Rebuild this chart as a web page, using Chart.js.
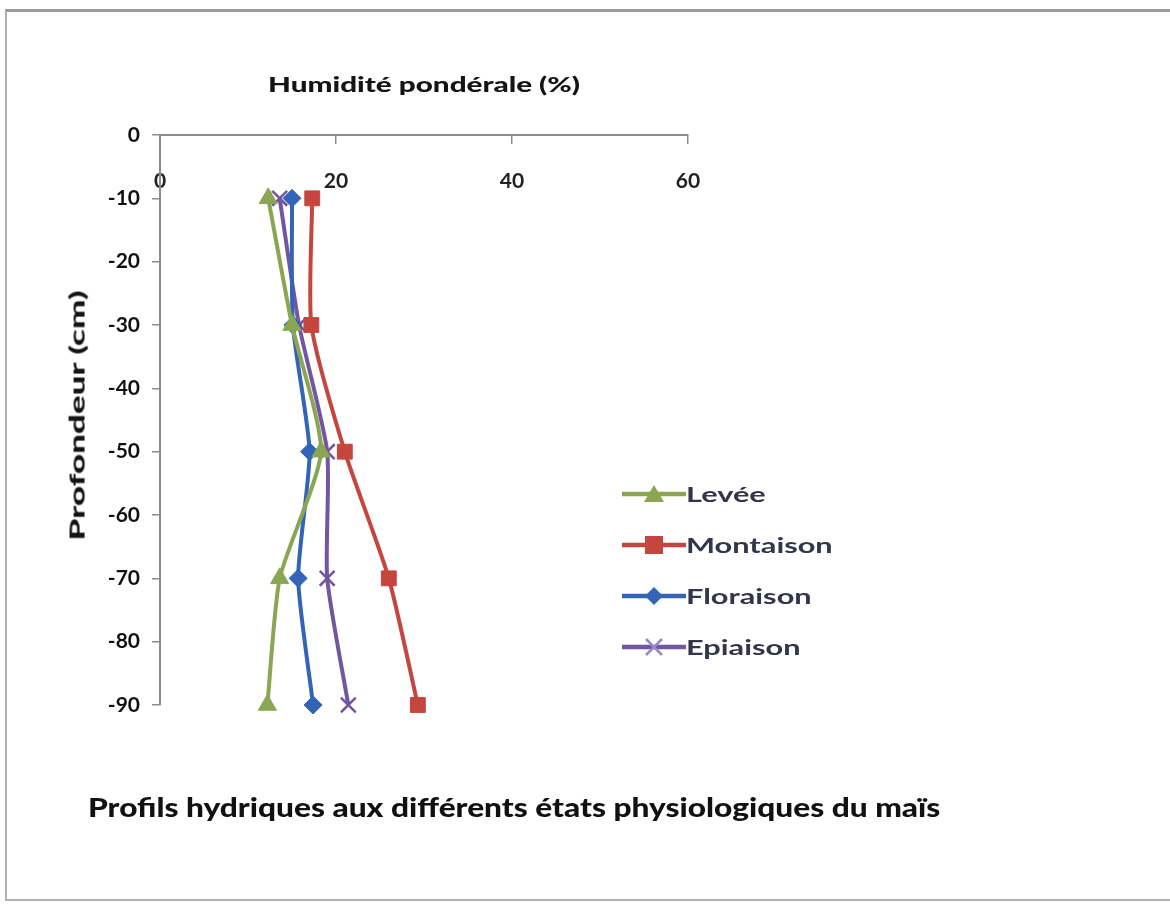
<!DOCTYPE html>
<html>
<head>
<meta charset="utf-8">
<script src="https://cdn.jsdelivr.net/npm/chart.js@4"></script>
<style>
  html, body { margin: 0; padding: 0; background: #fff; }
  body { width: 1170px; height: 908px; position: relative; overflow: hidden; font-family: Lato, 'Noto Sans', sans-serif; }
  #frame { position: absolute; left: 5px; top: 9px; width: 1170px; height: 892px; border-top: 3px solid #9a9a9a; border-left: 2px solid #b0b0b0; border-bottom: 2px solid #b0b0b0; box-sizing: border-box; }
  #wrap { position: absolute; left: 0; top: 0; width: 1170px; height: 908px; }
  .txt { position: absolute; white-space: nowrap; font-weight: 900; line-height: 1; }
  #xTitle { font-size: 21px; color: #141414; transform-origin: 0 50%; }
  #yTitle { font-size: 21px; color: #141414; transform-origin: 50% 50%; }
  #caption { font-size: 27px; color: #111; transform-origin: 0 50%; }
  #legend { position: absolute; left: 622px; top: 468px; }
  .legend-item { display: flex; align-items: center; height: 51px; }
  .legend-item svg { display: block; flex: none; }
  .legend-item span { font-size: 20px; font-weight: 700; color: #34344a; display: inline-block; transform-origin: 0 50%; white-space: nowrap; }
</style>
</head>
<body>
<div id="frame"></div>
<div id="wrap"><canvas id="chart" width="1170" height="908"></canvas></div>
<div id="xTitle" class="txt">Humidité pondérale (%)</div>
<div id="yTitle" class="txt">Profondeur (cm)</div>
<div id="caption" class="txt">Profils hydriques aux différents états physiologiques du maïs</div>
<div id="legend"></div>
<script>
// --- data ---
const depths = [-10, -30, -50, -70, -90];
const seriesNames = ['Levée', 'Montaison', 'Floraison', 'Epiaison'];
const leveeValues = [12.3, 15.0, 18.3, 13.6, 12.2];
const montaisonValues = [17.3, 17.2, 21.0, 26.0, 29.3];
const floraisonValues = [15.0, 15.1, 17.0, 15.7, 17.4];
const epiaisonValues = [13.6, 15.8, 19.0, 19.0, 21.4];
const xTicks = [0, 20, 40, 60];
const yTicks = [0, -10, -20, -30, -40, -50, -60, -70, -80, -90];

const colors = ['#8aa652', '#c4463f', '#3464b8', '#7256a0'];
const markers = ['triangle', 'rect', 'rectRot', 'crossRot'];
const allValues = [leveeValues, montaisonValues, floraisonValues, epiaisonValues];

function toPoints(values) {
    return values.map((v, i) => ({ x: v, y: depths[i] }));
}

const datasets = seriesNames.map((name, i) => ({
    label: name,
    data: toPoints(allValues[i]),
    showLine: true,
    tension: 0.2,
    borderColor: colors[i],
    backgroundColor: colors[i],
    borderWidth: 4,
    pointStyle: markers[i],
    pointRadius: markers[i] === 'rectRot' ? 9 : 10.5,
    pointBorderWidth: markers[i] === 'crossRot' ? 2.5 : 1,
    pointBorderColor: colors[i],
    clip: false
}));

const tickFont = { family: 'Lato', size: 21, weight: 'bold' };

new Chart(document.getElementById('chart'), {
    type: 'scatter',
    data: { datasets },
    options: {
        responsive: false,
        animation: false,
        layout: { padding: { left: 50, right: 482, top: 135, bottom: 203 } },
        plugins: { legend: { display: false }, tooltip: { enabled: false } },
        scales: {
            x: {
                type: 'linear',
                position: { y: 0 },
                min: 0, max: 60,
                afterBuildTicks: s => { s.ticks = xTicks.map(v => ({ value: v })); },
                grid: { display: true, drawOnChartArea: false, tickLength: 8, color: '#8c8c8c', lineWidth: 1.5 },
                border: { color: '#8c8c8c', width: 2 },
                ticks: { color: '#222', font: tickFont, padding: 26 }
            },
            y: {
                type: 'linear',
                position: 'left',
                min: -90, max: 0,
                afterBuildTicks: s => { s.ticks = yTicks.map(v => ({ value: v })); },
                afterFit: s => { s.width = 110; },
                grid: { display: true, drawOnChartArea: false, tickLength: 8, color: '#8c8c8c', lineWidth: 1.5 },
                border: { color: '#8c8c8c', width: 2 },
                ticks: { color: '#111', font: tickFont, padding: 12 }
            }
        }
    }
});

// --- stretch the HTML texts to the widths seen in the figure ---
function fitText(el, width, left, centerY) {
    const w = el.offsetWidth, h = el.offsetHeight;
    el.style.left = left + 'px';
    el.style.top = (centerY - h / 2) + 'px';
    el.style.transform = `scaleX(${width / w})`;
}
fitText(document.getElementById('xTitle'), 312, 268, 83);
fitText(document.getElementById('caption'), 852, 88, 806);

const yTitle = document.getElementById('yTitle');
{
    const w = yTitle.offsetWidth, h = yTitle.offsetHeight;
    yTitle.style.left = (76 - w / 2) + 'px';
    yTitle.style.top = (415 - h / 2) + 'px';
    yTitle.style.transform = `rotate(-90deg) scaleX(${250 / w})`;
}

// --- HTML legend with line + marker samples ---
function markerSvg(style, color) {
    if (style === 'triangle') return `<polygon points="32,3 42,20 22,20" fill="${color}"/>`;
    if (style === 'rect') return `<rect x="23" y="3" width="18" height="18" fill="${color}"/>`;
    if (style === 'rectRot') return `<polygon points="32,3 41,12 32,21 23,12" fill="${color}"/>`;
    return `<path d="M24,4 L40,20 M40,4 L24,20" stroke="#9a88c0" stroke-width="2.5"/>`;
}
const legendEl = document.getElementById('legend');
const spans = [];
seriesNames.forEach((name, i) => {
    const item = document.createElement('div');
    item.className = 'legend-item';
    item.innerHTML = `<svg width="64" height="24"><line x1="0" y1="12" x2="64" y2="12" stroke="${colors[i]}" stroke-width="4.5"/>${markerSvg(markers[i], colors[i])}</svg><span>${name}</span>`;
    legendEl.appendChild(item);
    spans.push(item.querySelector('span'));
});
const legendScale = 146 / spans[1].offsetWidth;
spans.forEach(s => { s.style.transform = `scaleX(${legendScale})`; });
</script>
</body>
</html>
